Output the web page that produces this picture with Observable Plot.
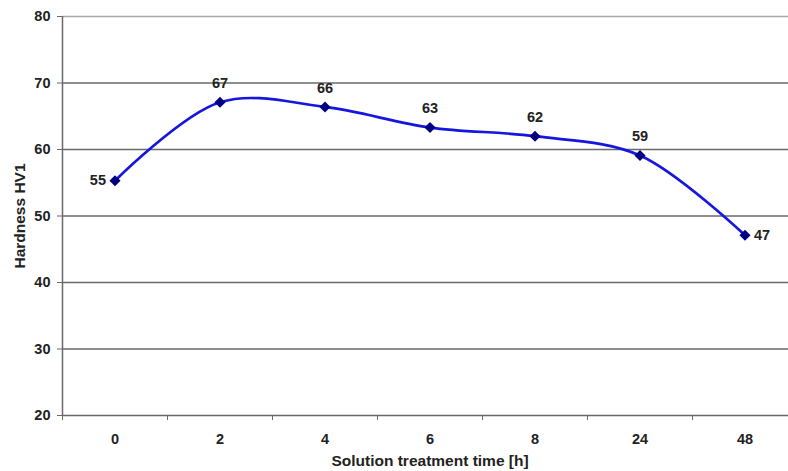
<!DOCTYPE html>
<html><head><meta charset="utf-8">
<script src="https://cdn.jsdelivr.net/npm/d3@7"></script>
<script src="https://cdn.jsdelivr.net/npm/@observablehq/plot@0.6"></script>
<style>body{margin:0;background:#fff}
svg [aria-label="y-axis label"] text, svg [aria-label="x-axis label"] text { font-size: 15.5px; }
</style>
</head><body><div id="chart"></div>
<script>
const categories = ["0", "2", "4", "6", "8", "24", "48"];
const hardness = [55.3, 67.1, 66.4, 63.3, 62.0, 59.1, 47.1];
const valueLabels = ["55", "67", "66", "63", "62", "59", "47"];
const yTicks = [20, 30, 40, 50, 60, 70, 80];

const data = categories.map((c, i) => ({i, c, v: hardness[i], label: valueLabels[i]}));
const n = categories.length;
const boundaries = d3.range(n + 1).map(k => k - 0.5);

const chart = Plot.plot({
  width: 788, height: 471,
  marginLeft: 62, marginRight: -9, marginTop: 16, marginBottom: 56,
  style: {fontFamily: "'Liberation Sans', Arial, sans-serif", fontSize: "14.5px", fontWeight: "bold", color: "#222", background: "#fff", overflow: "hidden"},
  x: {type: "linear", domain: [-0.5, n - 0.5]},
  y: {domain: [20, 80]},
  marks: [
    Plot.ruleY(yTicks.filter(t => t > 20 && t < 80), {stroke: "#6a6a6a", strokeWidth: 1.5}),
    Plot.ruleY([80], {stroke: "#a8a8a8", strokeWidth: 1.5}),
    Plot.ruleY([20], {stroke: "#6a6a6a", strokeWidth: 1.5}),
    Plot.ruleX([-0.5], {stroke: "#6a6a6a", strokeWidth: 1.5}),
    Plot.axisX({ticks: boundaries, tickFormat: () => "", tickSize: 5, stroke: "#6a6a6a", label: null}),
    Plot.axisX({ticks: d3.range(n), tickFormat: i => categories[i], tickSize: 0, tickPadding: 18,
      label: "Solution treatment time [h]", labelAnchor: "center", labelOffset: 50, labelArrow: "none"}),
    Plot.axisY({ticks: yTicks, tickSize: 5, tickPadding: 7, stroke: "#6a6a6a",
      label: "Hardness HV1", labelAnchor: "center", labelOffset: 49, labelArrow: "none"}),
    Plot.line(data, {x: "i", y: "v", curve: "catmull-rom", stroke: "#1616dc", strokeWidth: 2.7}),
    Plot.dot(data, {x: "i", y: "v", symbol: "diamond2", fill: "#000080", stroke: "none", r: 5}),
    Plot.text(data.slice(1, -1), {x: "i", y: "v", text: "label", dy: -19, fill: "#222"}),
    Plot.text(data.slice(0, 1), {x: "i", y: "v", text: "label", dx: -9, textAnchor: "end", fill: "#222"}),
    Plot.text(data.slice(-1), {x: "i", y: "v", text: "label", dx: 9, textAnchor: "start", fill: "#222"})
  ]
});
document.getElementById("chart").append(chart);
</script>
</body></html>
